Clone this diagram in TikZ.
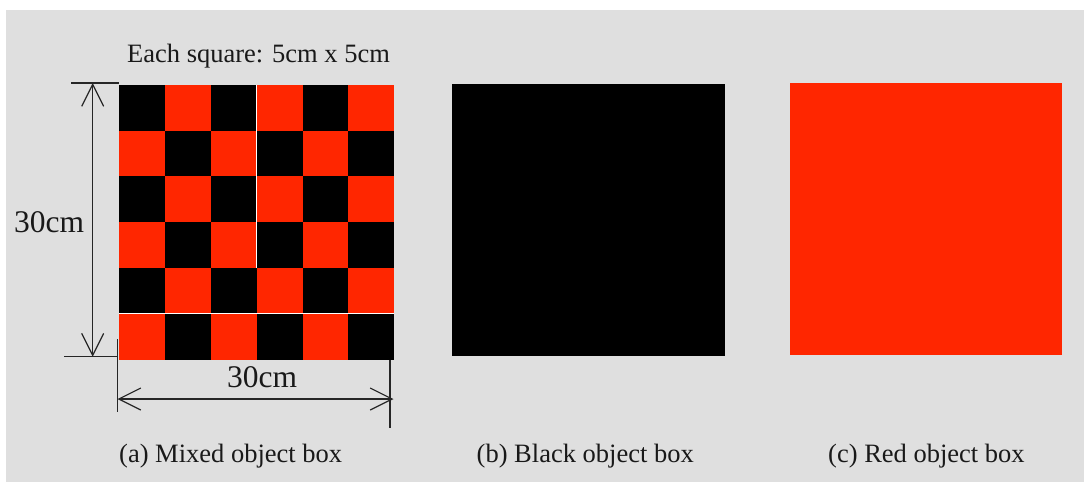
\documentclass[tikz,border=0pt]{standalone}
\usepackage{fontspec}
\setmainfont{Liberation Serif}
\usetikzlibrary{arrows.meta}
\definecolor{bggray}{HTML}{DFDFDF}
\definecolor{boxred}{HTML}{FF2600}
\tikzset{
  dimline/.style={line width=1.2pt, black!85},
  dimarrow/.style={dimline, {Straight Barb[length=22pt,width=22pt,line width=1.2pt]}-{Straight Barb[length=22pt,width=22pt,line width=1.2pt]}},
  caption/.style={inner sep=0pt, anchor=base west, font=\fontsize{26.5}{30}\selectfont, text=black!90},
  bigtext/.style={inner sep=0pt, anchor=base west, font=\fontsize{31.5}{34}\selectfont, text=black!90},
  plainbox/.style={draw=none, inner sep=0pt, minimum width=273pt, minimum height=272pt, anchor=north west}
}
\begin{document}
\begin{tikzpicture}[x=1pt,y=-1pt]
\useasboundingbox (0,0) rectangle (1084,482);
\fill[white] (0,0) rectangle (1084,482);
\fill[bggray] (6,10) rectangle (1084,482);
% checkerboard
\def\xs{{119,165,211,256.7,302.7,348.3,394}}
\def\ys{{85,130.7,175.7,221.7,267.7,313.3,360}}
\foreach \r in {0,...,5}{
  \foreach \c in {0,...,5}{
    \pgfmathsetmacro{\xa}{\xs[\c]}
    \pgfmathsetmacro{\xb}{\xs[\c+1]}
    \pgfmathsetmacro{\ya}{\ys[\r]}
    \pgfmathsetmacro{\yb}{\ys[\r+1]}
    \pgfmathtruncatemacro{\cellpar}{mod(\r+\c,2)}
    \ifnum\cellpar=0
      \fill[black] (\xa,\ya) rectangle (\xb,\yb);
    \else
      \fill[boxred] (\xa,\ya) rectangle (\xb,\yb);
    \fi
  }
}
\coordinate (board) at (119,85);
\draw[white, line width=0.8pt] (256.7,85) -- (256.7,267.7);
\draw[white, line width=0.8pt] (119,313.3) -- (394,313.3);
% plain boxes
\node[plainbox, fill=black, minimum width=273pt, minimum height=272pt] (black) at (452,84) {};
\node[plainbox, fill=boxred, minimum width=272pt, minimum height=272pt] (red) at (790,83) {};
% dimension lines
\coordinate (vt) at (92.7,83);
\coordinate (vb) at (92.7,356.7);
\draw[dimline] (71,83) -- (119,83);
\draw[dimline] (64,356.7) -- (117,356.7);
\draw[dimarrow] (vt) -- (vb);
\coordinate (hl) at (117.5,399);
\coordinate (hr) at (393.5,399);
\draw[dimline] (117.5,339) -- (117.5,412);
\draw[dimline] (390,360) -- (390,428);
\draw[dimarrow] (hl) -- (hr);
% texts
\node[caption] (each) at (127,62.5) {Each square: 5cm x 5cm};
\node[bigtext] (dimv) at (14,232.5) {30cm};
\node[bigtext] (dimh) at (227,387.5) {30cm};
\node[caption] (capa) at (119,462.5) {(a) Mixed object box};
\node[caption] (capb) at (476.5,462.5) {(b) Black object box};
\node[caption] (capc) at (828,462.5) {(c) Red object box};
\end{tikzpicture}
\end{document}
